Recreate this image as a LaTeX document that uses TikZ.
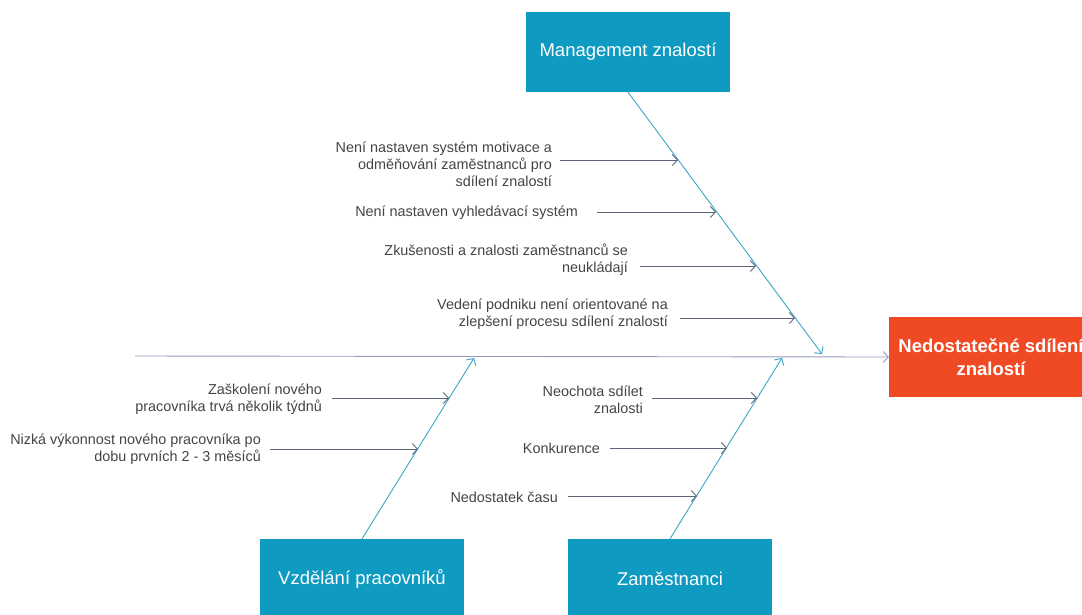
\documentclass[tikz,border=0pt]{standalone}
\usepackage{fontspec}
\setmainfont{Liberation Sans}
\usetikzlibrary{arrows.meta}
\definecolor{boxblue}{HTML}{0E9AC1}
\definecolor{effred}{HTML}{F04A24}
\definecolor{bonecol}{HTML}{3AA6C6}
\definecolor{spinecol}{HTML}{9698C0}
\definecolor{branchcol}{HTML}{5E667C}
\definecolor{txtcol}{HTML}{444444}
\tikzset{
  catbox/.style={fill=boxblue, text=white, minimum width=204pt, minimum height=80pt, inner sep=0pt,
    font=\fontsize{18.5}{22}\selectfont},
  effbox/.style={fill=effred, text=white, minimum width=204pt, minimum height=80pt, inner sep=0pt, align=center,
    font=\fontsize{18.5}{22.5}\selectfont\bfseries},
  cause/.style={text=txtcol, align=right, inner sep=0pt, anchor=east,
    font=\fontsize{14.4}{17.2}\selectfont},
  tip/.style={-{Straight Barb[length=5pt,width=11pt,line width=0.9pt]}},
  bone/.style={draw=bonecol, line width=0.9pt, tip},
  spine/.style={draw=spinecol, line width=0.9pt, tip},
  branch/.style={draw=branchcol, line width=0.9pt, tip},
}
\begin{document}
\begin{tikzpicture}[x=1pt,y=-1pt]
\useasboundingbox (0,0) rectangle (1082,614);
\clip (0,0) rectangle (1082,614);
% category boxes
\node[catbox] (mgmt) at (628,52) {Management znalostí};
\node[catbox] (vzd) at (362,579) {Vzdělání pracovníků};
\node[catbox] (zam) at (670,579) {Zaměstnanci};
\node[effbox] (eff) at (991,357) {Nedostatečné sdílení\\znalostí};
% spine
\coordinate (spst) at (135,356);
\draw[spine] (spst) -- (eff.west);
% bones
\coordinate (mend) at (822,354);
\coordinate (vend) at (474,358);
\coordinate (zend) at (782,358);
\draw[bone] (mgmt.south) -- (mend);
\draw[bone] (vzd.north) -- (vend);
\draw[bone] (zam.north) -- (zend);
% causes - management
\node[cause] (c1) at (552,164) {Není nastaven systém motivace a\\odměňování zaměstnanců pro\\sdílení znalostí};
\coordinate (c1s) at (560,160); \coordinate (c1e) at (678,160);
\draw[branch] (c1s) -- (c1e);
\node[cause] (c2) at (578,213) {Není nastaven vyhledávací systém};
\coordinate (c2s) at (597,212); \coordinate (c2e) at (716,212);
\draw[branch] (c2s) -- (c2e);
\node[cause] (c3) at (628,260) {Zkušenosti a znalosti zaměstnanců se\\neukládají};
\coordinate (c3s) at (640,266); \coordinate (c3e) at (756,266);
\draw[branch] (c3s) -- (c3e);
\node[cause] (c4) at (668,314) {Vedení podniku není orientované na\\zlepšení procesu sdílení znalostí};
\coordinate (c4s) at (680,318); \coordinate (c4e) at (795,318);
\draw[branch] (c4s) -- (c4e);
% causes - vzdelani
\node[cause] (c5) at (322,399) {Zaškolení nového\\pracovníka trvá několik týdnů};
\coordinate (c5s) at (332,398); \coordinate (c5e) at (449,398);
\draw[branch] (c5s) -- (c5e);
\node[cause] (c6) at (261,449) {Nizká výkonnost nového pracovníka po\\dobu prvních 2 - 3 měsíců};
\coordinate (c6s) at (270,449); \coordinate (c6e) at (418,449);
\draw[branch] (c6s) -- (c6e);
% causes - zamestnanci
\node[cause] (c7) at (643,400) {Neochota sdílet\\znalosti};
\coordinate (c7s) at (652,398); \coordinate (c7e) at (757,398);
\draw[branch] (c7s) -- (c7e);
\node[cause] (c8) at (600,448) {Konkurence};
\coordinate (c8s) at (610,448); \coordinate (c8e) at (727,448);
\draw[branch] (c8s) -- (c8e);
\node[cause] (c9) at (558,497) {Nedostatek času};
\coordinate (c9s) at (568,496); \coordinate (c9e) at (697,496);
\draw[branch] (c9s) -- (c9e);
\end{tikzpicture}
\end{document}
